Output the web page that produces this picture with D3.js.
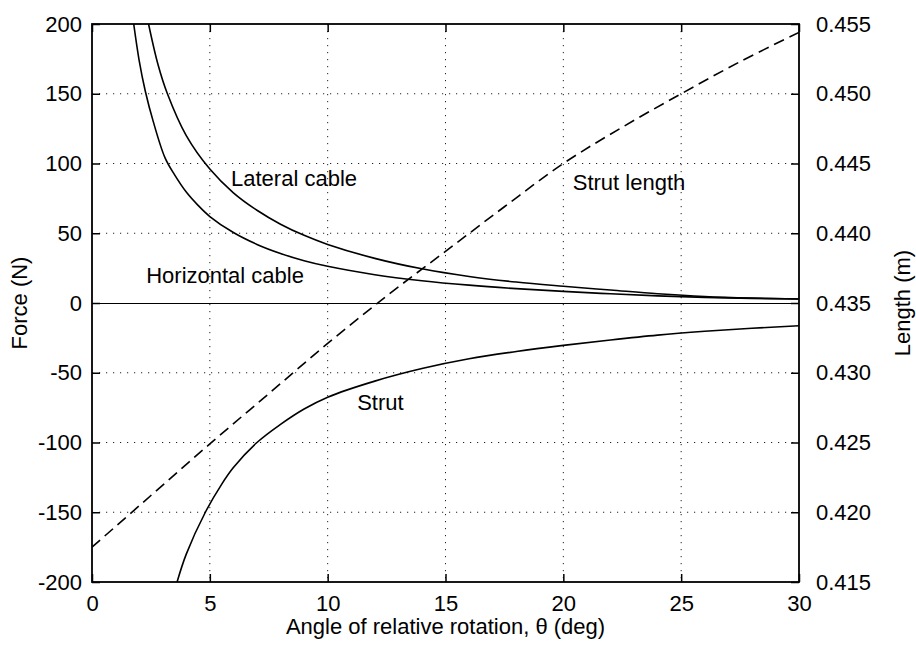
<!DOCTYPE html>
<html>
<head>
<meta charset="utf-8">
<script src="https://cdn.jsdelivr.net/npm/d3@7"></script>
<style>
  body { margin: 0; background: #fff; }
  svg text { font-family: "Liberation Sans", Arial, Helvetica, sans-serif; fill: #000; }
</style>
</head>
<body>
<div id="chart"></div>
<script>
// Valores
const lateralDeg = [2.4, 2.8, 3.2, 4, 5, 6, 7, 8, 9, 10, 12, 14, 16, 18, 20, 22, 24, 26, 28, 30];
const lateralN   = [200, 171, 150, 120, 96, 79, 66.5, 56.5, 48.5, 42, 32, 24.5, 19, 15, 12, 9.3, 6.6, 4.6, 3.5, 2.9];

const horizDeg = [1.77, 2.0, 2.26, 2.6, 3.1, 3.5, 4, 4.5, 5, 6, 7, 8, 9, 10, 12, 14, 16, 18, 20, 22, 24, 26, 28, 30];
const horizN   = [200, 174, 152, 130, 104, 92, 79.5, 70, 62, 50.5, 42, 35.5, 30.3, 26.3, 20.3, 16, 12.8, 10.3, 8.3, 6.6, 5.1, 4.0, 3.3, 2.9];

const strutDeg = [3.61, 4, 4.81, 5.5, 6, 7, 8, 9, 10, 12, 14, 16, 18, 20, 22, 24, 26, 28, 30];
const strutN   = [-200, -180, -150, -130, -118, -100, -87, -76, -67.5, -56, -47, -40, -34.8, -30.4, -26.5, -23, -20.3, -18.1, -16.3];

const lengthDeg = [0, 2.5, 5, 7.5, 10, 12.5, 15, 17.5, 20, 22.5, 25, 27.5, 30];
const lengthM   = [0.4175, 0.4212, 0.4249, 0.4285, 0.4321, 0.4355, 0.4387, 0.4419, 0.4450, 0.4476, 0.4500, 0.4523, 0.4544];

const xTicks = [0, 5, 10, 15, 20, 25, 30];
const yTicks = [-200, -150, -100, -50, 0, 50, 100, 150, 200];
const y2Ticks = [0.415, 0.420, 0.425, 0.430, 0.435, 0.440, 0.445, 0.450, 0.455];

const labels = [
  {text: 'Lateral cable', deg: 5.9, force: 84},
  {text: 'Horizontal cable', deg: 2.3, force: 14},
  {text: 'Strut', deg: 11.25, force: -77},
  {text: 'Strut length', deg: 20.4, force: 81}
];

// === SVG ===
const W = 916, H = 645;
const margin = {top: 24, right: 117, bottom: 63, left: 92};
const w = W - margin.left - margin.right;
const h = H - margin.top - margin.bottom;
const FS = 22;

const svg = d3.select('#chart').append('svg')
  .attr('width', W).attr('height', H);

const g = svg.append('g')
  .attr('transform', `translate(${margin.left},${margin.top})`);

const x = d3.scaleLinear().domain([0, 30]).range([0, w]);
const y = d3.scaleLinear().domain([-200, 200]).range([h, 0]);
const y2 = d3.scaleLinear().domain([0.415, 0.455]).range([h, 0]);

// --- rejilla punteada ---
g.append('g').selectAll('line')
  .data(xTicks.slice(1, -1))
  .enter().append('line')
  .attr('x1', d => x(d)).attr('x2', d => x(d))
  .attr('y1', 0).attr('y2', h)
  .attr('stroke', '#222').attr('stroke-width', 1)
  .attr('stroke-dasharray', '1.2,5.8');

g.append('g').selectAll('line')
  .data(yTicks.filter(d => d !== 0 && Math.abs(d) !== 200))
  .enter().append('line')
  .attr('x1', 0).attr('x2', w)
  .attr('y1', d => y(d)).attr('y2', d => y(d))
  .attr('stroke', '#222').attr('stroke-width', 1)
  .attr('stroke-dasharray', '1.2,5.8');

// línea de fuerza cero
g.append('line')
  .attr('x1', 0).attr('x2', w)
  .attr('y1', y(0) + 0.5).attr('y2', y(0) + 0.5)
  .attr('stroke', '#000').attr('stroke-width', 1.2);

// --- curvas ---
svg.append('defs').append('clipPath').attr('id', 'clip')
  .append('rect').attr('width', w).attr('height', h);

const plot = g.append('g').attr('clip-path', 'url(#clip)');

const forceLine = d3.line()
  .x(d => x(d[0])).y(d => y(d[1]))
  .curve(d3.curveCatmullRom.alpha(0.5));

const lengthLine = d3.line()
  .x(d => x(d[0])).y(d => y2(d[1]))
  .curve(d3.curveCatmullRom.alpha(0.5));

[[lateralDeg, lateralN], [horizDeg, horizN], [strutDeg, strutN]].forEach(([xs, ys]) => {
  plot.append('path')
    .datum(d3.zip(xs, ys))
    .attr('fill', 'none')
    .attr('stroke', '#000')
    .attr('stroke-width', 1.6)
    .attr('d', forceLine);
});

plot.append('path')
  .datum(d3.zip(lengthDeg, lengthM))
  .attr('fill', 'none')
  .attr('stroke', '#000')
  .attr('stroke-width', 1.6)
  .attr('stroke-dasharray', '11,6')
  .attr('d', lengthLine);

// --- ejes ---
const styleAxis = sel => {
  sel.select('.domain').remove();
  sel.selectAll('.tick line').attr('stroke', '#000').attr('stroke-width', 1.5);
  sel.selectAll('.tick text').attr('font-size', FS).attr('fill', '#000')
    .style('font-family', '"Liberation Sans", Arial, sans-serif');
};

g.append('g')
  .call(d3.axisLeft(y).tickValues(yTicks).tickSize(-8).tickPadding(10).tickFormat(d => String(d)))
  .call(styleAxis);

g.append('g')
  .attr('transform', `translate(${w},0)`)
  .call(d3.axisRight(y2).tickValues(y2Ticks).tickSize(-8).tickPadding(17).tickFormat(d => d.toFixed(3)))
  .call(styleAxis);

g.append('g')
  .attr('transform', `translate(0,${h})`)
  .call(d3.axisBottom(x).tickValues(xTicks).tickSize(-8).tickPadding(13).tickFormat(d => String(d)))
  .call(styleAxis);

g.append('g')
  .call(d3.axisTop(x).tickValues(xTicks).tickSize(-8).tickFormat(''))
  .call(styleAxis);

// caja
g.append('rect')
  .attr('width', w).attr('height', h)
  .attr('fill', 'none').attr('stroke', '#000').attr('stroke-width', 1.8);

// --- etiquetas de curvas ---
g.selectAll('.lbl')
  .data(labels)
  .enter().append('text')
  .attr('class', 'lbl')
  .attr('x', d => x(d.deg))
  .attr('y', d => y(d.force))
  .attr('font-size', FS)
  .text(d => d.text);

// --- títulos ---
svg.append('text')
  .attr('x', margin.left + w / 2)
  .attr('y', 634)
  .attr('text-anchor', 'middle')
  .attr('font-size', FS)
  .text('Angle of relative rotation, θ (deg)');

svg.append('text')
  .attr('transform', `translate(27,${margin.top + h / 2}) rotate(-90)`)
  .attr('text-anchor', 'middle')
  .attr('font-size', FS)
  .text('Force (N)');

svg.append('text')
  .attr('transform', `translate(910,${margin.top + h / 2}) rotate(-90)`)
  .attr('text-anchor', 'middle')
  .attr('font-size', FS)
  .text('Length (m)');
</script>
</body>
</html>
